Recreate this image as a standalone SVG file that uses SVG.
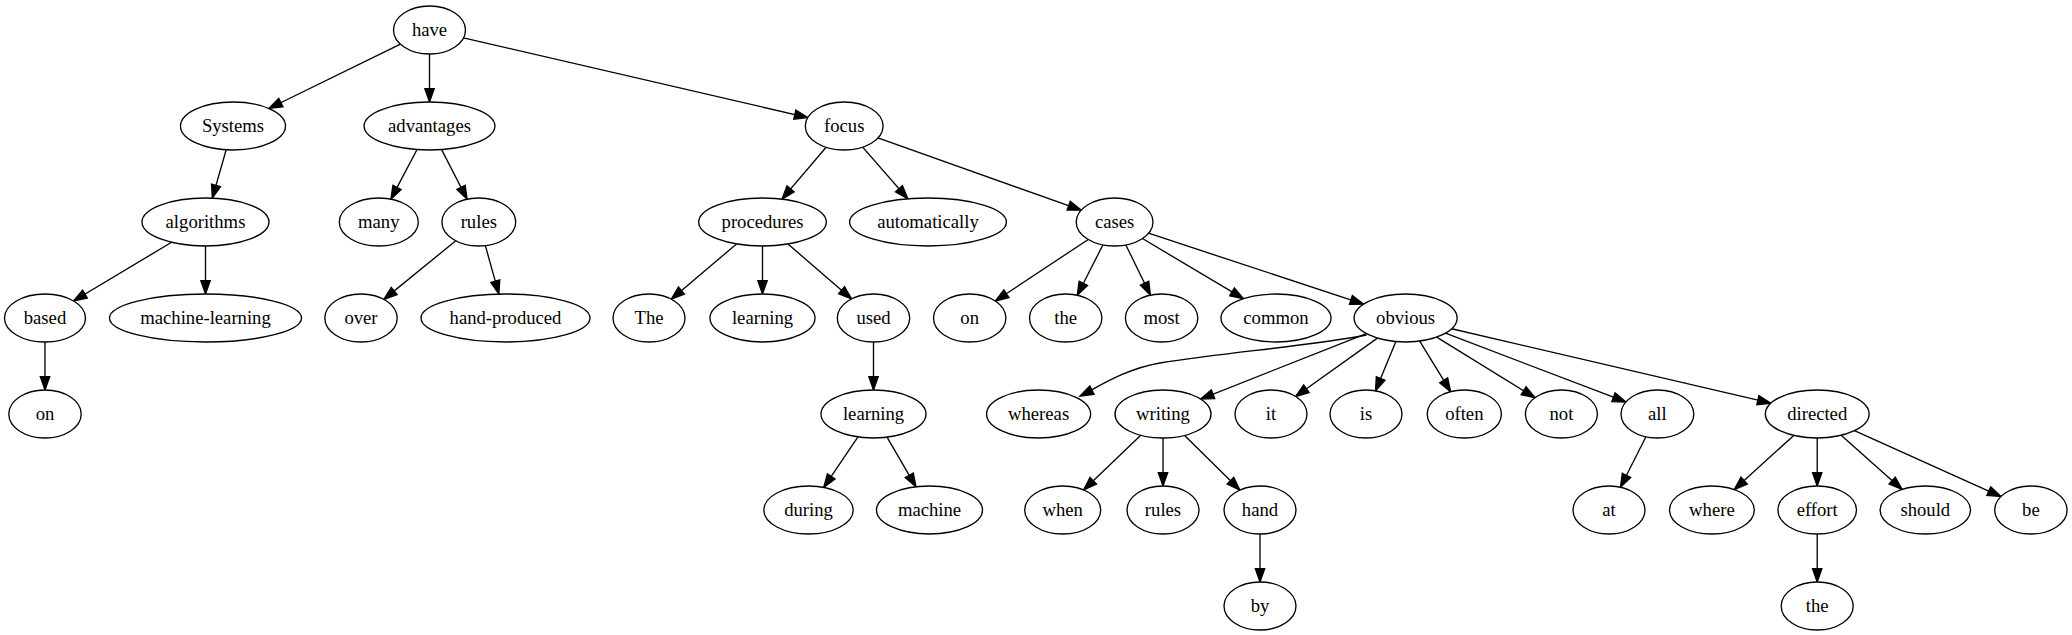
<svg xmlns="http://www.w3.org/2000/svg" width="2072" height="635" viewBox="0 0 2072 635">
<style>
.n ellipse{fill:#fff;stroke:#000;stroke-width:1.33}
.n text{font-family:"Liberation Serif","Times New Roman",serif;font-size:18.67px;text-anchor:middle;fill:#000}
.e line,.e path{stroke:#000;stroke-width:1.33;fill:none;marker-end:url(#arr)}
</style>
<defs>
<marker id="arr" markerUnits="userSpaceOnUse" viewBox="-1 -1 16 12" refX="13.33" refY="5" markerWidth="16" markerHeight="12" orient="auto" overflow="visible">
<path d="M0,0.33 L13.33,5 L0,9.67 Z" fill="#000" stroke="#000" stroke-width="1.33"/>
</marker>
</defs>
<rect width="2072" height="635" fill="#fff"/>
<g id="edges" class="e">
<line x1="400.46" y1="44.19" x2="268.87" y2="108.48"/>
<line x1="429.5" y1="54" x2="429.5" y2="102"/>
<line x1="463.51" y1="37.87" x2="807.78" y2="117.57"/>
<line x1="226.18" y1="149.8" x2="212.34" y2="198.14"/>
<line x1="171.58" y1="242.29" x2="73.5" y2="300.95"/>
<line x1="205.5" y1="246" x2="205.5" y2="294"/>
<line x1="45" y1="342" x2="45" y2="390"/>
<line x1="417.06" y1="149.56" x2="390.87" y2="199.15"/>
<line x1="441.61" y1="149.58" x2="467.11" y2="199.24"/>
<line x1="455.78" y1="240.76" x2="383.85" y2="299.38"/>
<line x1="485.37" y1="245.62" x2="498.85" y2="294.07"/>
<line x1="826.12" y1="147.25" x2="781.95" y2="199.14"/>
<line x1="862.65" y1="147.13" x2="907.76" y2="198.81"/>
<line x1="877.92" y1="137.97" x2="1081.21" y2="210.15"/>
<line x1="736.57" y1="243.93" x2="671.28" y2="299.15"/>
<line x1="762.5" y1="246" x2="762.5" y2="294"/>
<line x1="787.99" y1="244" x2="851.65" y2="298.97"/>
<line x1="873.5" y1="342" x2="873.5" y2="390"/>
<line x1="857.98" y1="436.93" x2="823.77" y2="487.44"/>
<line x1="887.03" y1="437.19" x2="915.96" y2="486.8"/>
<line x1="1088.25" y1="239.46" x2="995.31" y2="301.03"/>
<line x1="1102.95" y1="244.87" x2="1077.28" y2="295.26"/>
<line x1="1125.84" y1="244.95" x2="1150.42" y2="295.17"/>
<line x1="1142.42" y1="238.55" x2="1243.47" y2="298.65"/>
<line x1="1148.56" y1="233.2" x2="1363.57" y2="304.13"/>
<path d="M1366.5,335 C1310,346 1230,352 1160,363 C1125,369 1100,386 1080,396"/>
<line x1="1366.34" y1="333.53" x2="1200.64" y2="399.11"/>
<line x1="1377.43" y1="338.09" x2="1295.58" y2="396.47"/>
<line x1="1395.88" y1="341.57" x2="1375.55" y2="390.86"/>
<line x1="1419.71" y1="341.08" x2="1450.65" y2="391.68"/>
<line x1="1436.67" y1="337.14" x2="1534.96" y2="397.71"/>
<line x1="1445.46" y1="333.2" x2="1625.89" y2="401.99"/>
<line x1="1451.65" y1="328.74" x2="1770.86" y2="403.19"/>
<line x1="1140.77" y1="435.27" x2="1083.63" y2="489.97"/>
<line x1="1163" y1="438" x2="1163" y2="486"/>
<line x1="1184.64" y1="435.42" x2="1239.89" y2="490.09"/>
<line x1="1260" y1="534" x2="1260" y2="582"/>
<line x1="1645.92" y1="436.78" x2="1620.47" y2="487.25"/>
<line x1="1793.72" y1="435.4" x2="1734.26" y2="489.61"/>
<line x1="1817.2" y1="438" x2="1817.2" y2="486"/>
<line x1="1841.17" y1="435.29" x2="1902.1" y2="489.4"/>
<line x1="1854.43" y1="430.72" x2="2000.93" y2="496.54"/>
<line x1="1817.2" y1="534" x2="1817.2" y2="582"/>
</g>
<g id="n_have" class="n"><ellipse cx="429.5" cy="30" rx="36" ry="24"/><text x="429.5" y="36">have</text></g>
<g id="n_Systems" class="n"><ellipse cx="233" cy="126" rx="52.5" ry="24"/><text x="233" y="132">Systems</text></g>
<g id="n_advantages" class="n"><ellipse cx="429.5" cy="126" rx="65.4" ry="24"/><text x="429.5" y="132">advantages</text></g>
<g id="n_focus" class="n"><ellipse cx="844.2" cy="126" rx="38.9" ry="24"/><text x="844.2" y="132">focus</text></g>
<g id="n_algorithms" class="n"><ellipse cx="205.5" cy="222" rx="63.5" ry="24"/><text x="205.5" y="228">algorithms</text></g>
<g id="n_many" class="n"><ellipse cx="378.8" cy="222" rx="39.5" ry="24"/><text x="378.8" y="228">many</text></g>
<g id="n_rules1" class="n"><ellipse cx="478.8" cy="222" rx="36.9" ry="24"/><text x="478.8" y="228">rules</text></g>
<g id="n_procedures" class="n"><ellipse cx="762.5" cy="222" rx="63.8" ry="24"/><text x="762.5" y="228">procedures</text></g>
<g id="n_automatically" class="n"><ellipse cx="928" cy="222" rx="78.4" ry="24"/><text x="928" y="228">automatically</text></g>
<g id="n_cases" class="n"><ellipse cx="1114.6" cy="222" rx="38.4" ry="24"/><text x="1114.6" y="228">cases</text></g>
<g id="n_based" class="n"><ellipse cx="45" cy="318" rx="40.5" ry="24"/><text x="45" y="324">based</text></g>
<g id="n_machine-learning" class="n"><ellipse cx="205.5" cy="318" rx="96" ry="24"/><text x="205.5" y="324">machine-learning</text></g>
<g id="n_over" class="n"><ellipse cx="361" cy="318" rx="36.2" ry="24"/><text x="361" y="324">over</text></g>
<g id="n_hand-produced" class="n"><ellipse cx="505.5" cy="318" rx="84.5" ry="24"/><text x="505.5" y="324">hand-produced</text></g>
<g id="n_The" class="n"><ellipse cx="649" cy="318" rx="36" ry="24"/><text x="649" y="324">The</text></g>
<g id="n_learning1" class="n"><ellipse cx="762.5" cy="318" rx="52.5" ry="24"/><text x="762.5" y="324">learning</text></g>
<g id="n_used" class="n"><ellipse cx="873.5" cy="318" rx="36.2" ry="24"/><text x="873.5" y="324">used</text></g>
<g id="n_on1" class="n"><ellipse cx="969.7" cy="318" rx="36.2" ry="24"/><text x="969.7" y="324">on</text></g>
<g id="n_the1" class="n"><ellipse cx="1065.7" cy="318" rx="36.2" ry="24"/><text x="1065.7" y="324">the</text></g>
<g id="n_most" class="n"><ellipse cx="1161.6" cy="318" rx="36.2" ry="24"/><text x="1161.6" y="324">most</text></g>
<g id="n_common" class="n"><ellipse cx="1276" cy="318" rx="55" ry="24"/><text x="1276" y="324">common</text></g>
<g id="n_obvious" class="n"><ellipse cx="1405.6" cy="318" rx="51.5" ry="24"/><text x="1405.6" y="324">obvious</text></g>
<g id="n_on2" class="n"><ellipse cx="45" cy="414" rx="36.2" ry="24"/><text x="45" y="420">on</text></g>
<g id="n_learning2" class="n"><ellipse cx="873.5" cy="414" rx="52.5" ry="24"/><text x="873.5" y="420">learning</text></g>
<g id="n_whereas" class="n"><ellipse cx="1038.6" cy="414" rx="52" ry="24"/><text x="1038.6" y="420">whereas</text></g>
<g id="n_writing" class="n"><ellipse cx="1163" cy="414" rx="48" ry="24"/><text x="1163" y="420">writing</text></g>
<g id="n_it" class="n"><ellipse cx="1271" cy="414" rx="36" ry="24"/><text x="1271" y="420">it</text></g>
<g id="n_is" class="n"><ellipse cx="1366" cy="414" rx="36" ry="24"/><text x="1366" y="420">is</text></g>
<g id="n_often" class="n"><ellipse cx="1464.3" cy="414" rx="37.1" ry="24"/><text x="1464.3" y="420">often</text></g>
<g id="n_not" class="n"><ellipse cx="1561.4" cy="414" rx="36" ry="24"/><text x="1561.4" y="420">not</text></g>
<g id="n_all" class="n"><ellipse cx="1657.4" cy="414" rx="36.4" ry="24"/><text x="1657.4" y="420">all</text></g>
<g id="n_directed" class="n"><ellipse cx="1817.2" cy="414" rx="51.9" ry="24"/><text x="1817.2" y="420">directed</text></g>
<g id="n_during" class="n"><ellipse cx="808.5" cy="510" rx="44.7" ry="24"/><text x="808.5" y="516">during</text></g>
<g id="n_machine" class="n"><ellipse cx="929.5" cy="510" rx="53" ry="24"/><text x="929.5" y="516">machine</text></g>
<g id="n_when" class="n"><ellipse cx="1062.7" cy="510" rx="38" ry="24"/><text x="1062.7" y="516">when</text></g>
<g id="n_rules2" class="n"><ellipse cx="1163" cy="510" rx="36" ry="24"/><text x="1163" y="516">rules</text></g>
<g id="n_hand" class="n"><ellipse cx="1260" cy="510" rx="36" ry="24"/><text x="1260" y="516">hand</text></g>
<g id="n_at" class="n"><ellipse cx="1609" cy="510" rx="36" ry="24"/><text x="1609" y="516">at</text></g>
<g id="n_where" class="n"><ellipse cx="1711.9" cy="510" rx="42.4" ry="24"/><text x="1711.9" y="516">where</text></g>
<g id="n_effort" class="n"><ellipse cx="1817.2" cy="510" rx="39.3" ry="24"/><text x="1817.2" y="516">effort</text></g>
<g id="n_should" class="n"><ellipse cx="1925.3" cy="510" rx="45.2" ry="24"/><text x="1925.3" y="516">should</text></g>
<g id="n_be" class="n"><ellipse cx="2030.9" cy="510" rx="36.2" ry="24"/><text x="2030.9" y="516">be</text></g>
<g id="n_by" class="n"><ellipse cx="1260" cy="606" rx="36" ry="24"/><text x="1260" y="612">by</text></g>
<g id="n_the2" class="n"><ellipse cx="1817.2" cy="606" rx="36" ry="24"/><text x="1817.2" y="612">the</text></g>
</svg>
